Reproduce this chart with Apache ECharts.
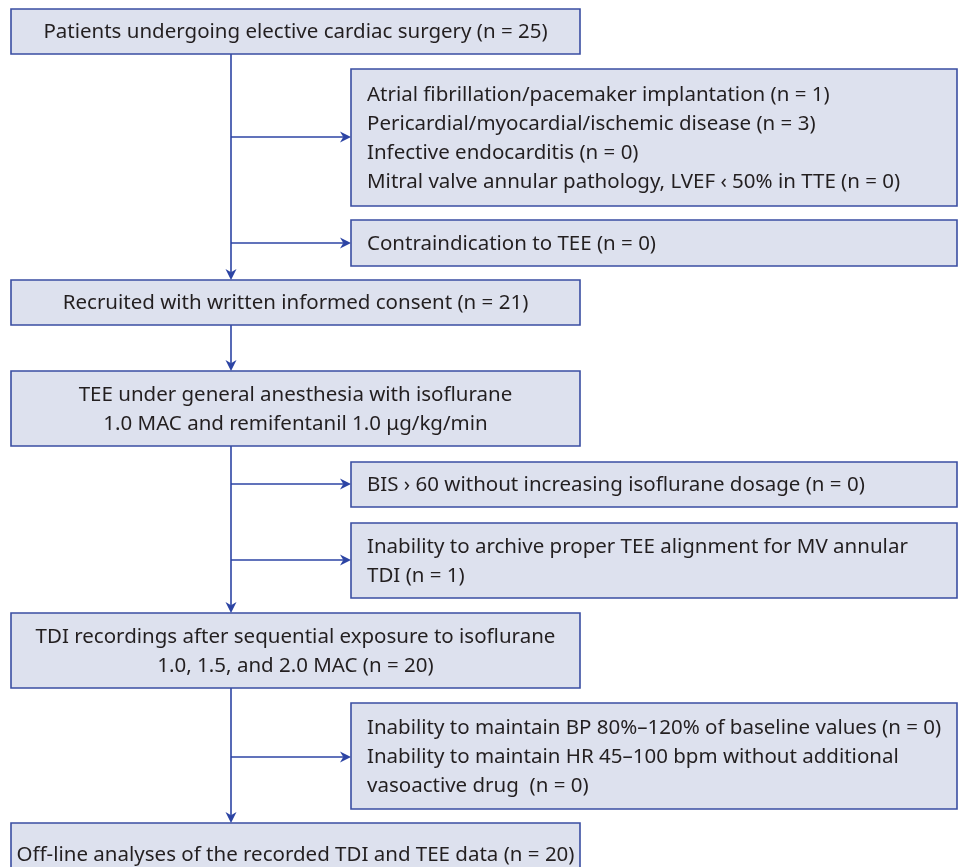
<!DOCTYPE html>
<html>
<head>
<meta charset="utf-8">
<script src="https://cdn.jsdelivr.net/npm/echarts@6/dist/echarts.min.js"></script>
<style>html,body{margin:0;padding:0;background:#fff}#c{width:959px;height:867px}</style>
</head>
<body>
<div id="c"></div>
<script>
// Flow-step labels
const mainLabels = [
  'Patients undergoing elective cardiac surgery (n = 25)',
  'Recruited with written informed consent (n = 21)',
  'TEE under general anesthesia with isoflurane\n1.0 MAC and remifentanil 1.0 \u03bcg/kg/min',
  'TDI recordings after sequential exposure to isoflurane\n1.0, 1.5, and 2.0 MAC (n = 20)',
  'Off-line analyses of the recorded TDI and TEE data (n = 20)'
];
const sideLabels = [
  'Atrial fibrillation/pacemaker implantation (n = 1)\nPericardial/myocardial/ischemic disease (n = 3)\nInfective endocarditis (n = 0)\nMitral valve annular pathology, LVEF \u2039 50% in TTE (n = 0)',
  'Contraindication to TEE (n = 0)',
  'BIS \u203a 60 without increasing isoflurane dosage (n = 0)',
  'Inability to archive proper TEE alignment for MV annular\nTDI (n = 1)',
  'Inability to maintain BP 80%\u2013120% of baseline values (n = 0)\nInability to maintain HR 45\u2013100 bpm without additional\nvasoactive drug  (n = 0)'
];
// Layout in data units (axis space 0..959 x 0..867)
const mainCol = [11, 580];
const sideCol = [351, 957];
const mainRows = [[9, 54], [280, 325], [371, 446], [613, 688], [823, 885]];
const sideRows = [[69, 206], [220, 266], [462, 507], [523, 598], [703, 809]];
const spineX = 231;
const branchY = [137, 243, 484, 560, 757];

const boxData = [];
mainLabels.forEach((t, i) => boxData.push([mainCol[0], mainRows[i][0], mainCol[1], mainRows[i][1], t, 'center']));
sideLabels.forEach((t, i) => boxData.push([sideCol[0], sideRows[i][0], sideCol[1], sideRows[i][1], t, 'left']));

const connData = [];
for (let i = 0; i < mainRows.length - 1; i++) connData.push([spineX, mainRows[i][1], spineX, mainRows[i + 1][0]]);
branchY.forEach(y => connData.push([spineX, y, sideCol[0], y]));

const LINE = '#2c44a4';
const chart = echarts.init(document.getElementById('c'), null, {renderer: 'canvas'});
chart.setOption({
  animation: false,
  grid: {left: 0, right: 0, top: 0, bottom: 0},
  xAxis: {type: 'value', min: 0, max: 959, show: false},
  yAxis: {type: 'value', min: 0, max: 867, inverse: true, show: false},
  series: [
    {
      type: 'custom', clip: false, data: connData,
      renderItem(params, api) {
        const a = api.coord([api.value(0), api.value(1)]);
        const b = api.coord([api.value(2), api.value(3)]);
        const dx = b[0] - a[0], dy = b[1] - a[1];
        const len = Math.hypot(dx, dy), ux = dx / len, uy = dy / len;
        const L = 11, W = 5.5;
        const base = [b[0] - ux * L, b[1] - uy * L];
        const notch = [b[0] - ux * L * 0.7, b[1] - uy * L * 0.7];
        return {type: 'group', children: [
          {type: 'line', shape: {x1: a[0], y1: a[1], x2: notch[0], y2: notch[1]}, style: {stroke: LINE, lineWidth: 1.6}},
          {type: 'polygon', shape: {points: [b, [base[0] - uy * W, base[1] + ux * W], notch, [base[0] + uy * W, base[1] - ux * W]]}, style: {fill: LINE}}
        ]};
      }
    },
    {
      type: 'custom', clip: false, data: boxData,
      renderItem(params, api) {
        const d = boxData[params.dataIndex];
        const p0 = api.coord([api.value(0), api.value(1)]);
        const p1 = api.coord([api.value(2), api.value(3)]);
        const x = Math.min(p0[0], p1[0]), y = Math.min(p0[1], p1[1]);
        const w = Math.abs(p1[0] - p0[0]), h = Math.abs(p1[1] - p0[1]);
        const center = d[5] === 'center';
        return {type: 'group', children: [
          {type: 'rect', shape: {x: x, y: y, width: w, height: h}, style: {fill: '#dde1ee', stroke: '#3a4ea2', lineWidth: 1.6}},
          {type: 'text', style: {text: d[4], x: center ? x + w / 2 : x + 16, y: y + h / 2 + 1,
            align: center ? 'center' : 'left', verticalAlign: 'middle',
            font: '20.5px "Noto Sans"', fill: '#231f20', lineHeight: 28.8}}
        ]};
      }
    }
  ]
});
</script>
</body>
</html>
